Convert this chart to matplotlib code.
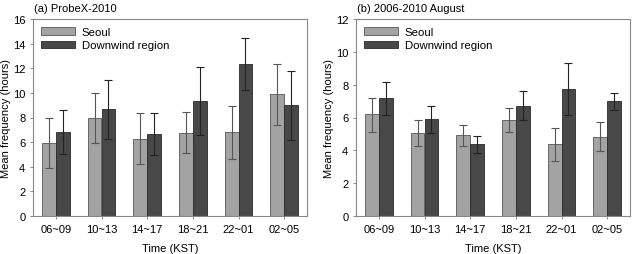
import matplotlib.pyplot as plt
import numpy as np

times = ["06~09", "10~13", "14~17", "18~21", "22~01", "02~05"]

# (a) ProbeX-2010
a_seoul = [5.95, 8.0, 6.27, 6.76, 6.8, 9.88]
a_seoul_lo = [3.87, 5.9, 4.2, 5.1, 4.65, 7.37]
a_seoul_hi = [7.98, 10.0, 8.38, 8.45, 8.95, 12.33]
a_down = [6.8, 8.68, 6.68, 9.33, 12.33, 9.0]
a_down_lo = [5.05, 6.25, 4.97, 6.6, 10.2, 6.2]
a_down_hi = [8.63, 11.08, 8.38, 12.08, 14.48, 11.8]

# (b) 2006-2010 August
b_seoul = [6.2, 5.06, 4.94, 5.85, 4.37, 4.83]
b_seoul_lo = [5.14, 4.24, 4.24, 5.1, 3.37, 3.96]
b_seoul_hi = [7.2, 5.82, 5.56, 6.6, 5.38, 5.71]
b_down = [7.2, 5.88, 4.36, 6.72, 7.75, 6.98]
b_down_lo = [6.18, 5.06, 3.86, 5.82, 6.15, 6.46]
b_down_hi = [8.17, 6.72, 4.88, 7.6, 9.3, 7.5]

plt.rcParams['font.family'] = ['Liberation Sans', 'DejaVu Sans']

fig = plt.figure(figsize=(6.32, 2.55), dpi=100)
ax1 = fig.add_axes([33/632, 38/255, 274/632, 197/255])
ax2 = fig.add_axes([356/632, 38/255, 274/632, 197/255])

def panel(ax, title, s, s_lo, s_hi, d, d_lo, d_hi, ymax, step):
    x = np.arange(len(times))
    w = 0.3
    s = np.array(s); d = np.array(d)
    s_err = [s - np.array(s_lo), np.array(s_hi) - s]
    d_err = [d - np.array(d_lo), np.array(d_hi) - d]
    ax.bar(x - w/2, s, width=w, color="#a3a3a3", edgecolor="#555555",
           linewidth=0.6, label="Seoul")
    ax.bar(x + w/2, d, width=w, color="#484848", edgecolor="#2a2a2a",
           linewidth=0.6, label="Downwind region")
    ax.errorbar(x - w/2, s, yerr=s_err, fmt="none", ecolor="#555555",
                elinewidth=0.8, capsize=3, capthick=0.8)
    ax.errorbar(x + w/2, d, yerr=d_err, fmt="none", ecolor="#222222",
                elinewidth=0.8, capsize=3, capthick=0.8)
    ax.set_xlim(-0.5, len(times) - 0.5)
    ax.set_ylim(0, ymax)
    ax.set_yticks(np.arange(0, ymax + 0.1, step))
    ax.set_xticks(x)
    ax.set_xticklabels(times)
    ax.tick_params(labelsize=8, length=2.5, width=0.6, color="#777777", pad=3)
    for sp in ax.spines.values():
        sp.set_color("#888888")
        sp.set_linewidth(0.8)
    ax.set_xlabel("Time (KST)", fontsize=8, labelpad=7)
    ax.set_ylabel("Mean frequency (hours)", fontsize=8, labelpad=1)
    ax.text(0.005, 1.03, title, transform=ax.transAxes, fontsize=8, va="bottom", ha="left")
    ax.legend(loc="upper left", frameon=False, fontsize=8.2, handlelength=3.0,
              handleheight=0.6, borderaxespad=0.3, labelspacing=0.3,
              handletextpad=0.6)

panel(ax1, "(a) ProbeX-2010", a_seoul, a_seoul_lo, a_seoul_hi,
      a_down, a_down_lo, a_down_hi, 16, 2)
panel(ax2, "(b) 2006-2010 August", b_seoul, b_seoul_lo, b_seoul_hi,
      b_down, b_down_lo, b_down_hi, 12, 2)

fig.savefig("out.png", dpi=100)
